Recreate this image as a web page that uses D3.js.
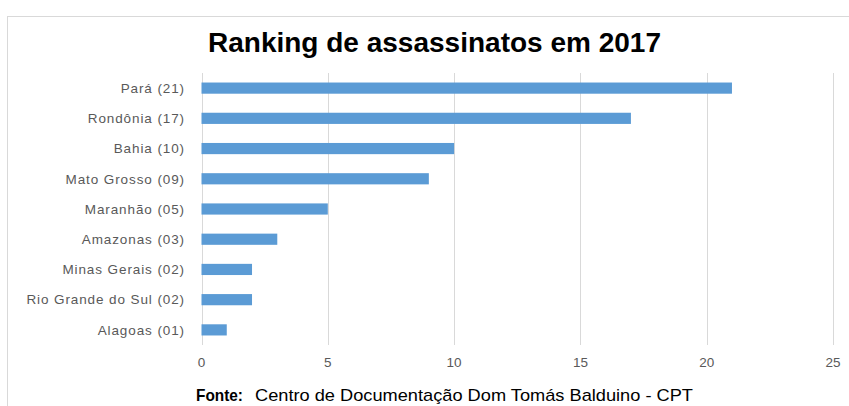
<!DOCTYPE html>
<html>
<head>
<meta charset="utf-8">
<script src="https://cdn.jsdelivr.net/npm/d3@7"></script>
<style>
  html, body { margin: 0; padding: 0; background: #fff; }
  svg { display: block; }
</style>
</head>
<body>
<svg id="chart" width="849" height="406"></svg>
<script>
// Murders per state, 2017 (CPT)
const states = ["Pará (21)", "Rondônia (17)", "Bahia (10)", "Mato Grosso (09)", "Maranhão (05)",
                "Amazonas (03)", "Minas Gerais (02)", "Rio Grande do Sul (02)", "Alagoas (01)"];
const murders = [21, 17, 10, 9, 5, 3, 2, 2, 1];
const xTicks = [0, 5, 10, 15, 20, 25];
const titleText = "Ranking de assassinatos em 2017";
const sourceLabel = "Fonte:";
const sourceText = "Centro de Documentação Dom Tomás Balduino - CPT";

const svg = d3.select("#chart");
const W = 849, H = 406;
const plot = { left: 201.5, right: 833, top: 73, bottom: 345 };
const font = "Liberation Sans, Arial, sans-serif";

// chart frame
svg.append("rect")
  .attr("x", 7.5).attr("y", 16.5)
  .attr("width", W - 7).attr("height", H)
  .attr("fill", "#fff").attr("stroke", "#d9d9d9").attr("stroke-width", 1);

const x = d3.scaleLinear().domain([0, 25]).range([plot.left, plot.right]);
const y = d3.scaleBand().domain(states).range([plot.top, plot.bottom]).paddingInner(0.63).paddingOuter(0.315);

// vertical gridlines
svg.append("g").selectAll("line").data(xTicks).join("line")
  .attr("x1", d => Math.round(x(d)) + 0.5).attr("x2", d => Math.round(x(d)) + 0.5)
  .attr("y1", plot.top).attr("y2", plot.bottom)
  .attr("stroke", "#d9d9d9").attr("stroke-width", 1);

// bars
svg.append("g").selectAll("rect").data(states).join("rect")
  .attr("x", x(0))
  .attr("y", d => y(d))
  .attr("width", (d, i) => x(murders[i]) - x(0))
  .attr("height", y.bandwidth())
  .attr("fill", "#5b9bd5");

// category labels
svg.append("g").selectAll("text").data(states).join("text")
  .attr("x", 185)
  .attr("y", d => y(d) + y.bandwidth() / 2)
  .attr("dy", "0.35em")
  .attr("text-anchor", "end")
  .attr("font-family", font)
  .attr("font-size", 13.5)
  .attr("letter-spacing", 0.9)
  .attr("fill", "#595959")
  .text(d => d);

// x tick labels
svg.append("g").selectAll("text").data(xTicks).join("text")
  .attr("x", d => x(d))
  .attr("y", 367)
  .attr("text-anchor", "middle")
  .attr("font-family", font)
  .attr("font-size", 13.5)
  .attr("fill", "#595959")
  .text(d => d);

// title
svg.append("text")
  .attr("x", 208).attr("y", 52)
  .attr("textLength", 453).attr("lengthAdjust", "spacingAndGlyphs")
  .attr("font-family", font)
  .attr("font-size", 27).attr("font-weight", "bold")
  .attr("fill", "#000")
  .text(titleText);

// source line
svg.append("text")
  .attr("x", 196).attr("y", 401)
  .attr("textLength", 47).attr("lengthAdjust", "spacingAndGlyphs")
  .attr("font-family", font)
  .attr("font-size", 17).attr("font-weight", "bold").attr("fill", "#000")
  .text(sourceLabel);
svg.append("text")
  .attr("x", 255).attr("y", 401)
  .attr("textLength", 438).attr("lengthAdjust", "spacingAndGlyphs")
  .attr("font-family", font)
  .attr("font-size", 17).attr("fill", "#000")
  .text(sourceText);
</script>
</body>
</html>
